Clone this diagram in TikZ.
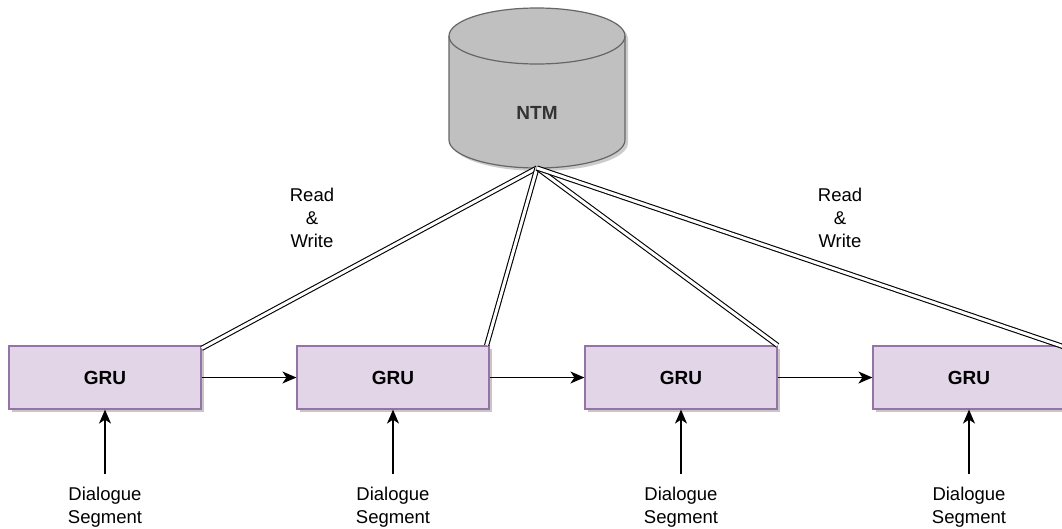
\documentclass[tikz,border=0pt]{standalone}
\usepackage{fontspec}
\setmainfont{Liberation Sans}
\usetikzlibrary{arrows.meta,positioning}
\definecolor{grufill}{HTML}{E1D5E7}
\definecolor{grudraw}{HTML}{9673A6}
\definecolor{cylfill}{HTML}{C0C0C0}
\definecolor{cyldraw}{HTML}{666666}
\definecolor{ntmtext}{HTML}{333333}
\tikzset{
  grubox/.style={rectangle, draw=grudraw, fill=grufill, line width=1.2pt,
    minimum width=192pt, minimum height=63pt, inner sep=0pt,
    font=\fontsize{19}{23}\selectfont\bfseries},
  shadowbox/.style={rectangle, fill=black, opacity=0.22,
    minimum width=192pt, minimum height=63pt, inner sep=0pt},
  lbl/.style={align=center, font=\fontsize{18.5}{23}\selectfont, inner sep=0pt},
  rw/.style={draw=black, double=white, double distance=3pt, line width=1.1pt},
  flow/.style={draw=black, line width=1.3pt, -{Stealth[length=14pt,width=12pt,inset=4pt]}},
}
\begin{document}
\begin{tikzpicture}[x=1pt,y=1pt]
\useasboundingbox (0,0) rectangle (1062,-528);
% cylinder shadow
\fill[black, opacity=0.2] (452,-39) -- (452,-143) arc[start angle=180,end angle=360,x radius=88,y radius=28] -- (628,-39) arc[start angle=0,end angle=180,x radius=88,y radius=28] -- cycle;
% cylinder
\draw[cyldraw, fill=cylfill, line width=1.2pt] (449,-36) -- (449,-140) arc[start angle=180,end angle=360,x radius=88,y radius=28] -- (625,-36) arc[start angle=0,end angle=180,x radius=88,y radius=28] -- cycle;
\draw[cyldraw, line width=1.2pt] (449,-36) arc[start angle=180,end angle=360,x radius=88,y radius=28];
\node[font=\fontsize{19}{23}\selectfont\bfseries, text=ntmtext] (ntm) at (537,-113) {NTM};
\coordinate (ntmb) at (537,-168);
% shadows of boxes
\foreach \x in {105,393,681,969} {
  \node[shadowbox] at (\x+3,-380.5) {};
}
% GRU boxes
\node[grubox] (g1) at (105,-377.5) {GRU};
\node[grubox] (g2) at (393,-377.5) {GRU};
\node[grubox] (g3) at (681,-377.5) {GRU};
\node[grubox] (g4) at (969,-377.5) {GRU};
% read/write links
\draw[rw] (ntmb) -- ([yshift=-3pt]g1.north east);
\draw[rw] (ntmb) -- ([xshift=-3pt]g2.north east);
\draw[rw] (ntmb) -- (g3.north east);
\draw[rw] (ntmb) -- ([yshift=-2pt]g4.north east);
% flow arrows
\draw[flow] (g1.east) -- (g2.west);
\draw[flow] (g2.east) -- (g3.west);
\draw[flow] (g3.east) -- (g4.west);
% inputs
\foreach \i/\x in {1/105,2/393,3/681,4/969} {
  \node[lbl] (d\i) at (\x,-507) {Dialogue\\Segment};
  \coordinate (s\i) at (\x,-474);
  \draw[flow] (s\i) -- (g\i.south);
}
% labels
\node[lbl] (rw1) at (312,-218) {Read\\\&\\Write};
\node[lbl] (rw2) at (840,-218) {Read\\\&\\Write};
\end{tikzpicture}
\end{document}
